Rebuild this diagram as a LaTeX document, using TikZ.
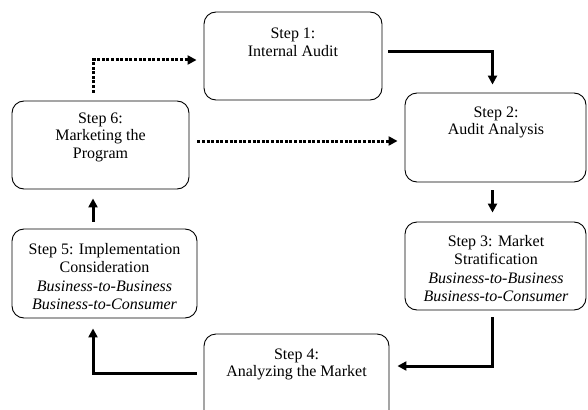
\documentclass[tikz,border=0pt]{standalone}
\usepackage{fontspec}
\setmainfont{Liberation Serif}
\usetikzlibrary{arrows.meta,calc}
\begin{document}
\begin{tikzpicture}[x=1pt,y=-1pt,
  box/.style={draw=black,line width=0.9pt,rounded corners=12pt,inner sep=0pt},
  txt/.style={anchor=north,align=center,inner sep=0pt,font=\fontsize{16}{17.5}\selectfont},
  txtb/.style={txt,font=\fontsize{16}{18.5}\selectfont},
  arr/.style={line width=3pt,-{Triangle[length=9pt,width=9pt]}},
  dotarr/.style={arr,dash pattern=on 3pt off 1.6pt}]
\useasboundingbox (0,0) rectangle (588,409);
% boxes
\node[box,minimum width=178pt,minimum height=88pt] (b1) at (293,56) {};
\node[box,minimum width=181pt,minimum height=89pt] (b2) at (495.5,137.5) {};
\node[box,minimum width=181pt,minimum height=88pt] (b3) at (495.5,266) {};
\node[box,minimum width=185pt,minimum height=88pt] (b4) at (296.5,378) {};
\node[box,minimum width=185pt,minimum height=89pt] (b5) at (104.5,273.5) {};
\node[box,minimum width=177pt,minimum height=88pt] (b6) at (100.5,145) {};
% texts
\node[txt] (t1) at (293,28) {Step 1:\\Internal Audit};
\node[txt] (t2) at (496,106.5) {Step 2:\\Audit Analysis};
\node[txtb] (t3) at (496,235) {Step 3: Market\\Stratification\\\textit{Business-to-Business}\\\textit{Business-to-Consumer}};
\node[txt] (t4) at (296.5,348.5) {Step 4:\\Analyzing the Market};
\node[txtb] (t5) at (104.5,243) {Step 5: Implementation\\Consideration\\\textit{Business-to-Business}\\\textit{Business-to-Consumer}};
\node[txt] (t6) at (100.5,112.5) {Step 6:\\Marketing the\\Program};
% connectors
\draw[arr] ($(b1.east)+(6,-4)$) -| ($(b2.north)+(-3,-8)$);
\draw[arr] ($(b2.south)+(-3,8)$) -- ($(b3.north)+(-3,-9)$);
\draw[arr] ($(b3.south)+(-3,7)$) |- ($(b4.east)+(8,-12)$);
\draw[arr] ($(b4.west)+(-7,-5)$) -| ($(b5.south)+(-11.5,10)$);
\draw[arr] ($(b5.north)+(-11.5,-7)$) -- ($(b6.south)+(-7.5,9)$);
\draw[dotarr] ($(b6.north)+(-7.5,-8)$) |- ($(b1.west)+(-7,4)$);
\draw[dotarr] ($(b6.east)+(8,-4)$) -- ($(b2.west)+(-7,3.5)$);
\end{tikzpicture}
\end{document}
